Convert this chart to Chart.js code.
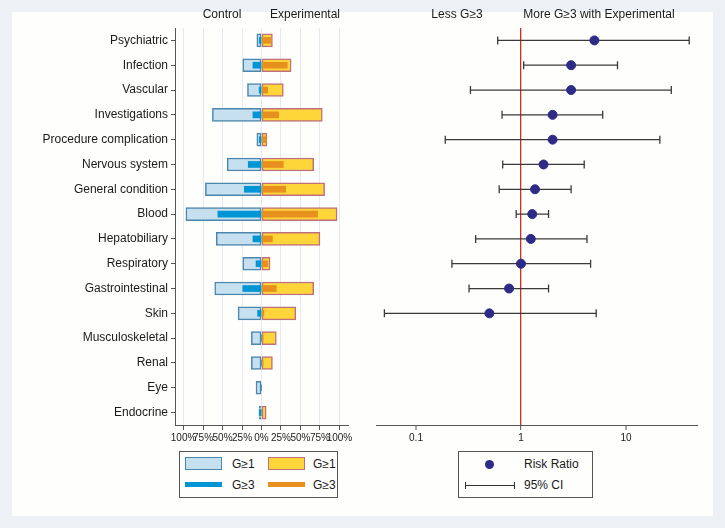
<!DOCTYPE html>
<html>
<head>
<meta charset="utf-8">
<script src="https://cdn.jsdelivr.net/npm/chart.js@4"></script>
<style>
  html, body { margin:0; padding:0; }
  body { width:725px; height:528px; background:#edf0f5; position:relative; overflow:hidden;
         font-family:"Liberation Sans", Arial, sans-serif; color:#1a1a1a; }
  #panel { position:absolute; left:12px; top:12px; width:701px; height:504px; background:#fefefd; }
  .abs { position:absolute; }
  canvas { display:block; }
  .hdr { position:absolute; font-size:12px; transform:translateX(-50%); top:7px; white-space:nowrap; }
  .lg { position:absolute; border:1px solid #555; box-sizing:border-box; background:#fefefd; overflow:hidden; }
  .lt { position:absolute; font-size:12px; line-height:14px; white-space:nowrap; }
</style>
</head>
<body>
<div id="panel"></div>
<div class="abs" style="left:0;top:0;width:360px;height:450px;"><canvas id="left" width="360" height="450"></canvas></div>
<div class="abs" style="left:360px;top:0;width:365px;height:450px;"><canvas id="right" width="365" height="450"></canvas></div>

<div class="hdr" style="left:222px;">Control</div>
<div class="hdr" style="left:305px;">Experimental</div>
<div class="hdr" style="left:457px;">Less G≥3</div>
<div class="hdr" style="left:599px;">More G≥3 with Experimental</div>

<div class="lg" style="left:179px;top:451px;width:159px;height:47px;">
  <div class="abs" style="left:5px;top:5px;width:37px;height:13px;background:#c6e0ef;border:1.5px solid #4a86ad;box-sizing:border-box;"></div>
  <div class="lt" style="left:52px;top:5px;">G≥1</div>
  <div class="abs" style="left:88px;top:5px;width:37px;height:13px;background:#ffd63a;border:1.5px solid #c0707a;box-sizing:border-box;"></div>
  <div class="lt" style="left:133px;top:5px;">G≥1</div>
  <div class="abs" style="left:5px;top:30px;width:37px;height:5px;background:#0096d6;"></div>
  <div class="lt" style="left:52px;top:26px;">G≥3</div>
  <div class="abs" style="left:88px;top:30px;width:37px;height:5px;background:#e8901e;"></div>
  <div class="lt" style="left:133px;top:26px;">G≥3</div>
</div>

<div class="lg" style="left:458px;top:451px;width:135px;height:47px;">
  <div class="abs" style="left:26px;top:8px;width:9px;height:9px;border-radius:50%;background:#2e2b86;"></div>
  <div class="lt" style="left:65px;top:5px;">Risk Ratio</div>
  <div class="abs" style="left:6px;top:33px;width:50px;height:1px;background:#333;"></div>
  <div class="abs" style="left:6px;top:30px;width:1px;height:7px;background:#333;"></div>
  <div class="abs" style="left:55px;top:30px;width:1px;height:7px;background:#333;"></div>
  <div class="lt" style="left:65px;top:26px;">95% CI</div>
</div>

<script>
// ---- data ----
const categories = ["Psychiatric","Infection","Vascular","Investigations","Procedure complication",
  "Nervous system","General condition","Blood","Hepatobiliary","Respiratory","Gastrointestinal",
  "Skin","Musculoskeletal","Renal","Eye","Endocrine"];
// percentages of patients
const controlG1 = [6, 24, 18, 63, 6, 44, 72, 97, 58, 24, 60, 30, 13, 13, 7, 3];
const controlG3 = [3, 11, 3, 11, 3, 17, 22, 56, 11, 7, 24, 5, 0, 0, 0, 3];
const expG1     = [14, 38, 28, 78, 7, 67, 81, 97, 75, 11, 67, 44, 19, 14, 0, 6];
const expG3     = [12, 33, 8, 22, 6, 28, 31, 72, 14, 8, 19, 3, 2, 2, 0, 0];
// risk ratio of G>=3 (Experimental vs Control)
const riskRatio = [5.0, 3.0, 3.0, 2.0, 2.0, 1.64, 1.36, 1.28, 1.24, 1.0, 0.77, 0.50, null, null, null, null];
const ciLow     = [0.60, 1.06, 0.33, 0.66, 0.19, 0.67, 0.62, 0.90, 0.37, 0.22, 0.32, 0.05, null, null, null, null];
const ciHigh    = [40, 8.3, 27, 6.0, 21, 4.0, 3.0, 1.83, 4.25, 4.6, 1.83, 5.2, null, null, null, null];
const pctTicks  = [-100, -75, -50, -25, 0, 25, 50, 75, 100];
const rrTicks   = [0.1, 1, 10];

const FONT = "'Liberation Sans', Arial, sans-serif";
Chart.defaults.font.family = FONT;
Chart.defaults.color = '#1a1a1a';
Chart.defaults.animation = false;

// ---- left: butterfly bar chart ----
new Chart(document.getElementById('left'), {
  type: 'bar',
  data: {
    labels: categories,
    datasets: [
      { label:'Control G≥1', data: controlG1.map(v => -v), backgroundColor:'#c6e0ef', borderColor:'#4a86ad',
        borderWidth:1.5, barThickness:13, grouped:false, order:2, borderSkipped:false },
      { label:'Experimental G≥1', data: expG1, backgroundColor:'#ffd63a', borderColor:'#c0707a',
        borderWidth:1.5, barThickness:13, grouped:false, order:2, borderSkipped:false },
      { label:'Control G≥3', data: controlG3.map(v => -v), backgroundColor:'#0096d6',
        borderWidth:0, barThickness:6, grouped:false, order:1 },
      { label:'Experimental G≥3', data: expG3, backgroundColor:'#e8901e',
        borderWidth:0, barThickness:6, grouped:false, order:1 }
    ]
  },
  options: {
    indexAxis: 'y',
    responsive: false,
    maintainAspectRatio: false,
    devicePixelRatio: 1,
    layout: { padding: { top: 28, right: 12, left: 0, bottom: 0 } },
    plugins: { legend: { display:false }, tooltip: { enabled:false } },
    scales: {
      x: {
        type: 'linear', min: -111, max: 111, bounds: 'data',
        afterBuildTicks: s => { s.ticks = pctTicks.map(v => ({ value: v })); },
        afterFit: s => { s.height = 25; },
        ticks: { autoSkip:false, maxRotation:0, font:{ size:10 }, padding:2, color:'#1a1a1a',
                 callback: v => Math.abs(v) + '%' },
        grid: { color:'#e6e9f1', lineWidth:1, tickLength:5, tickColor:'#555' },
        border: { color:'#555', width:1 }
      },
      y: {
        type: 'category', offset: true,
        afterFit: s => { s.width = 175; },
        ticks: { font:{ size:12 }, padding:3, color:'#1a1a1a', autoSkip:false },
        grid: { offset:false, drawOnChartArea:false, tickLength:4, tickColor:'#555' },
        border: { color:'#555', width:1 }
      }
    }
  }
});

// ---- right: forest plot ----
const ciDatasets = categories.map((c, i) => ciLow[i] == null ? null : ({
  type:'line', label:'CI ' + c,
  data: [{ x: ciLow[i], y: c }, { x: ciHigh[i], y: c }],
  borderColor:'#3a3a3a', borderWidth:1.2, showLine:true,
  pointStyle:'line', rotation:90, pointRadius:4, pointBorderColor:'#3a3a3a', pointBorderWidth:1.3,
  order:2
})).filter(d => d);

new Chart(document.getElementById('right'), {
  type: 'scatter',
  data: {
    datasets: [
      { label:'Risk Ratio',
        data: categories.map((c, i) => riskRatio[i] == null ? null : ({ x: riskRatio[i], y: c })).filter(p => p),
        backgroundColor:'#2e2b86', borderColor:'#2e2b86', pointRadius:4.5, pointStyle:'circle', order:1 },
      ...ciDatasets
    ]
  },
  options: {
    responsive: false,
    maintainAspectRatio: false,
    devicePixelRatio: 1,
    layout: { padding: { top: 28, right: 27, left: 16, bottom: 0 } },
    plugins: { legend: { display:false }, tooltip: { enabled:false } },
    scales: {
      x: {
        type: 'logarithmic', min: 0.0416, max: 48.5, bounds: 'data',
        afterBuildTicks: s => { s.ticks = rrTicks.map(v => ({ value: v })); },
        afterFit: s => { s.height = 25; },
        ticks: { autoSkip:false, maxRotation:0, font:{ size:10 }, padding:2, color:'#1a1a1a',
                 callback: v => String(v) },
        grid: { color: ctx => (ctx.tick && ctx.tick.value === 1) ? '#d42a20' : 'rgba(0,0,0,0)',
                lineWidth: ctx => (ctx.tick && ctx.tick.value === 1) ? 1.3 : 0,
                tickLength:5, tickColor:'#555', tickWidth:1 },
        border: { color:'#555', width:1 }
      },
      y: {
        type: 'category', labels: categories, offset: true, display: false
      }
    }
  }
});
</script>
</body>
</html>
